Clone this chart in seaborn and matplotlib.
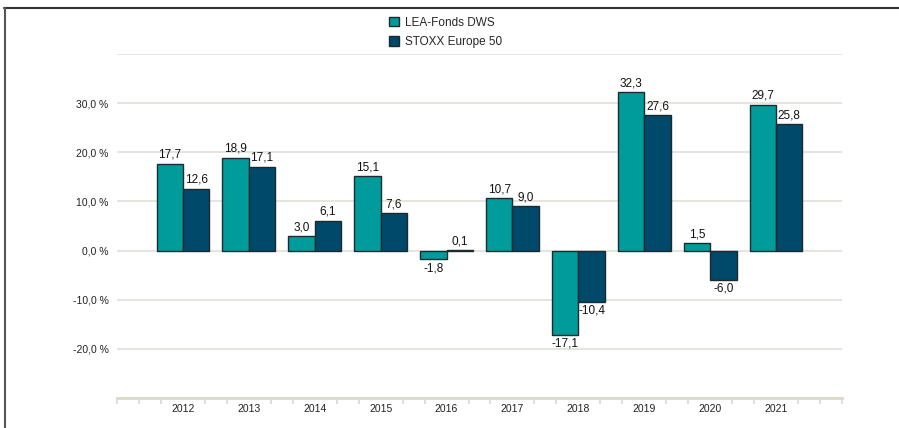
import matplotlib
matplotlib.use("Agg")
import matplotlib.pyplot as plt
import numpy as np
import pandas as pd
import seaborn as sns
from matplotlib.lines import Line2D

years = ["2012", "2013", "2014", "2015", "2016", "2017", "2018", "2019", "2020", "2021"]
lea_fonds = [17.7, 18.9, 3.0, 15.1, -1.8, 10.7, -17.1, 32.3, 1.5, 29.7]
stoxx = [12.6, 17.1, 6.1, 7.6, 0.1, 9.0, -10.4, 27.6, -6.0, 25.8]
series_names = ["LEA-Fonds DWS", "STOXX Europe 50"]
y_ticks = [-30, -20, -10, 0, 10, 20, 30, 40]

df = pd.DataFrame({
    "Jahr": years * 2,
    "Rendite": lea_fonds + stoxx,
    "Serie": [series_names[0]] * len(years) + [series_names[1]] * len(years),
})

sns.set_style("white")
plt.rcParams["font.family"] = ["Liberation Sans", "DejaVu Sans"]

fig = plt.figure(figsize=(8.99, 4.28), dpi=100)
ax = fig.add_axes([117 / 899, 30 / 428, 725 / 899, 344 / 428])

palette = {series_names[0]: "#009C9C", series_names[1]: "#00496B"}
sns.barplot(data=df, x="Jahr", y="Rendite", hue="Serie", order=years,
            hue_order=series_names, palette=palette, width=0.8,
            edgecolor="#1c2a2e", linewidth=1.0, saturation=1, ax=ax,
            legend=True)

ax.set_xlim(-1, len(years))
ax.set_ylim(-30, 40)
ax.set_xlabel("")
ax.set_ylabel("")

# grid and y labels
ax.set_yticks(y_ticks)
ax.set_yticklabels(["" if v in (-30, 40) else f"{v},0 %" for v in y_ticks],
                   fontsize=7.5, color="#222222")
ax.yaxis.grid(True, color="#e2dfd8", linewidth=1.2)
ax.set_axisbelow(True)
ax.tick_params(axis="y", length=0, pad=6)

# x axis: labels at categories, small ticks in between
ax.tick_params(axis="x", which="major", length=0, pad=4, labelsize=7.5,
               labelcolor="#222222")
minor = [k / 3 for k in range(-3, 3 * len(years) + 1) if k % 3 != 0]
minor = [-1] + minor + [len(years)]
ax.set_xticks(minor, minor=True)
ax.tick_params(axis="x", which="minor", bottom=True, length=4, width=1.2,
               color="#dcd8cc")

for side in ["top", "right", "left"]:
    ax.spines[side].set_visible(False)
ax.spines["bottom"].set_color("#dcd8cc")
ax.spines["bottom"].set_linewidth(2)

# value labels
for cont in ax.containers:
    labels = [f"{v:.1f}".replace(".", ",") for v in cont.datavalues]
    ax.bar_label(cont, labels=labels, padding=2, fontsize=8.5, color="#111111")

# legend at top
handles, labs = ax.get_legend_handles_labels()
ax.legend_.remove()
fig.legend(handles, labs, loc="upper left", bbox_to_anchor=(378 / 899, 1 - 6 / 428),
           frameon=False, fontsize=8.5, handlelength=0.9, handleheight=0.9,
           handletextpad=0.5, labelspacing=0.6)

# frame lines at top and left
fig.add_artist(Line2D([4 / 899, 1], [1 - 8 / 428, 1 - 8 / 428], color="#333333",
                      linewidth=1.5, transform=fig.transFigure))
fig.add_artist(Line2D([4.5 / 899, 4.5 / 899], [0, 1 - 8 / 428], color="#555555",
                      linewidth=1.5, transform=fig.transFigure))

fig.savefig("out.png", dpi=100)
